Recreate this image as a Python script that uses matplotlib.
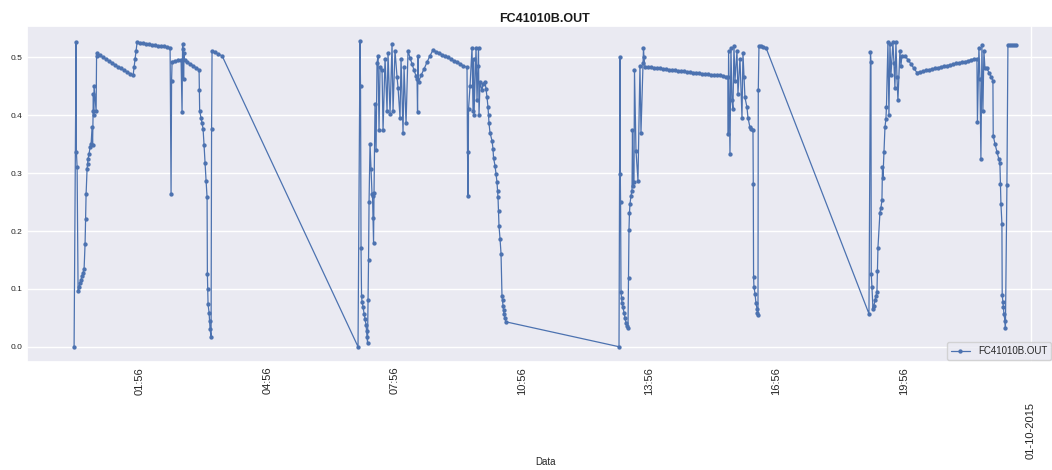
import matplotlib
matplotlib.use("Agg")
import matplotlib.pyplot as plt
import seaborn as sns
import numpy as np

# ---- data: time of day (hours, display clock) and reading ----
hours_a = [0.377, 0.424, 0.431, 0.448, 0.471, 0.495, 0.518, 0.542, 0.566, 0.589, 0.613,
           0.636, 0.648, 0.660, 0.683, 0.695, 0.707, 0.731, 0.754, 0.778, 0.801, 0.813,
           0.825, 0.832, 0.839, 0.848, 0.896, 0.907, 0.919, 0.990, 1.061, 1.131, 1.202,
           1.273, 1.343, 1.414, 1.485, 1.555, 1.626, 1.697, 1.768, 1.791, 1.815, 1.838,
           1.862, 1.933, 2.003, 2.074, 2.145, 2.215, 2.286, 2.357, 2.428, 2.498, 2.569,
           2.640, 2.663, 2.675, 2.687, 2.757, 2.828, 2.899, 2.922, 2.934, 2.946, 2.958,
           2.970, 2.981, 3.040, 3.111, 3.182, 3.252, 3.323, 3.330, 3.337, 3.370, 3.394,
           3.417, 3.441, 3.464, 3.488, 3.512, 3.519, 3.528, 3.535, 3.559, 3.571, 3.582,
           3.606, 3.618, 3.629, 3.700, 3.771, 3.865]
values_a = [0.000, 0.527, 0.337, 0.311, 0.097, 0.104, 0.110, 0.116, 0.122, 0.128, 0.135,
            0.178, 0.221, 0.264, 0.307, 0.316, 0.325, 0.334, 0.345, 0.351, 0.379, 0.348,
            0.408, 0.437, 0.400, 0.450, 0.408, 0.503, 0.507, 0.504, 0.500, 0.497, 0.494,
            0.491, 0.487, 0.484, 0.481, 0.478, 0.475, 0.472, 0.469, 0.483, 0.498, 0.512,
            0.526, 0.525, 0.525, 0.524, 0.523, 0.522, 0.521, 0.520, 0.520, 0.519, 0.518,
            0.517, 0.264, 0.460, 0.493, 0.494, 0.495, 0.496, 0.405, 0.524, 0.515, 0.463,
            0.507, 0.495, 0.492, 0.489, 0.486, 0.482, 0.479, 0.444, 0.408, 0.395, 0.386,
            0.377, 0.348, 0.317, 0.287, 0.258, 0.126, 0.100, 0.073, 0.059, 0.045, 0.031,
            0.017, 0.377, 0.511, 0.509, 0.506, 0.503]

hours_b = [7.070, 7.117, 7.129, 7.141, 7.153, 7.165, 7.188, 7.212, 7.235, 7.259, 7.271,
           7.283, 7.294, 7.306, 7.318, 7.330, 7.353, 7.377, 7.400, 7.412, 7.424, 7.436,
           7.447, 7.471, 7.495, 7.518, 7.542, 7.565, 7.589, 7.636, 7.660, 7.707, 7.754,
           7.777, 7.825, 7.872, 7.895, 7.942, 7.990, 8.013, 8.060, 8.084, 8.131, 8.155,
           8.202, 8.249, 8.296, 8.343, 8.390, 8.437, 8.461, 8.473, 8.484, 8.496, 8.555,
           8.626, 8.697, 8.767, 8.838, 8.909, 8.979, 9.050, 9.121, 9.192, 9.262, 9.333,
           9.404, 9.474, 9.545, 9.639, 9.651, 9.663, 9.675, 9.710, 9.757, 9.781, 9.793,
           9.804, 9.852, 9.875, 9.899, 9.910, 9.922, 9.946, 9.993, 10.016, 10.064, 10.087,
           10.111, 10.134, 10.146, 10.158, 10.181, 10.229, 10.252, 10.264, 10.299, 10.323,
           10.346, 10.358, 10.370, 10.382, 10.393, 10.417, 10.441, 10.464, 10.476, 10.488,
           10.500, 10.511, 10.535, 10.558]
values_b = [0.000, 0.528, 0.450, 0.170, 0.088, 0.078, 0.068, 0.057, 0.048, 0.038, 0.028,
            0.017, 0.007, 0.080, 0.150, 0.250, 0.351, 0.307, 0.264, 0.260, 0.223, 0.180,
            0.265, 0.420, 0.340, 0.490, 0.503, 0.374, 0.483, 0.478, 0.374, 0.498, 0.408,
            0.507, 0.403, 0.524, 0.408, 0.512, 0.466, 0.448, 0.396, 0.498, 0.370, 0.483,
            0.386, 0.512, 0.499, 0.489, 0.478, 0.468, 0.463, 0.405, 0.503, 0.457, 0.469,
            0.480, 0.492, 0.503, 0.513, 0.510, 0.508, 0.505, 0.502, 0.500, 0.497, 0.494,
            0.492, 0.489, 0.486, 0.483, 0.336, 0.261, 0.411, 0.450, 0.517, 0.408, 0.498,
            0.400, 0.517, 0.426, 0.486, 0.517, 0.400, 0.457, 0.443, 0.455, 0.457, 0.446,
            0.431, 0.414, 0.400, 0.386, 0.370, 0.356, 0.342, 0.327, 0.313, 0.299,
            0.284, 0.270, 0.258, 0.234, 0.209, 0.187, 0.161, 0.087, 0.080, 0.071,
            0.064, 0.057, 0.050, 0.043]

hours_c = [13.222, 13.245, 13.252, 13.259, 13.269, 13.281, 13.292, 13.316, 13.340, 13.363,
           13.387, 13.410, 13.434, 13.446, 13.457, 13.469, 13.481, 13.505, 13.528, 13.540,
           13.552, 13.575, 13.587, 13.622, 13.669, 13.716, 13.740, 13.787, 13.799, 13.811,
           13.834, 13.905, 13.976, 14.046, 14.117, 14.188, 14.259, 14.329, 14.400, 14.471,
           14.541, 14.612, 14.683, 14.754, 14.824, 14.895, 14.966, 15.036, 15.107, 15.178,
           15.248, 15.319, 15.390, 15.461, 15.531, 15.602, 15.673, 15.743, 15.791, 15.798,
           15.805, 15.838, 15.861, 15.885, 15.908, 15.932, 15.956, 16.003, 16.026, 16.073,
           16.121, 16.144, 16.168, 16.191, 16.238, 16.262, 16.309, 16.344, 16.380, 16.387,
           16.394, 16.403, 16.427, 16.450, 16.474, 16.486, 16.498, 16.505, 16.521, 16.568,
           16.615, 16.686]
values_c = [0.000, 0.500, 0.299, 0.250, 0.094, 0.085, 0.076, 0.068, 0.059, 0.050,
            0.041, 0.036, 0.033, 0.118, 0.202, 0.232, 0.247, 0.261, 0.270, 0.374,
            0.277, 0.284, 0.478, 0.339, 0.287, 0.486, 0.370, 0.491, 0.516, 0.500,
            0.484, 0.483, 0.483, 0.482, 0.482, 0.481, 0.480, 0.480, 0.479, 0.479,
            0.478, 0.477, 0.477, 0.476, 0.475, 0.475, 0.474, 0.474, 0.473, 0.472,
            0.472, 0.471, 0.470, 0.470, 0.469, 0.469, 0.468, 0.467, 0.467, 0.368,
            0.512, 0.334, 0.517, 0.426, 0.411, 0.519, 0.460, 0.512, 0.437, 0.498,
            0.396, 0.507, 0.466, 0.431, 0.414, 0.396, 0.379, 0.376, 0.374, 0.282,
            0.120, 0.104, 0.092, 0.076, 0.066, 0.059, 0.054, 0.443, 0.519, 0.519,
            0.518, 0.517]

hours_d = [19.114, 19.149, 19.161, 19.168, 19.184, 19.208, 19.231, 19.255, 19.279, 19.302,
           19.314, 19.326, 19.373, 19.396, 19.420, 19.432, 19.444, 19.467, 19.491, 19.514,
           19.526, 19.561, 19.585, 19.609, 19.632, 19.679, 19.703, 19.726, 19.750, 19.774,
           19.797, 19.844, 19.868, 19.891, 19.962, 20.033, 20.103, 20.174, 20.245, 20.315,
           20.386, 20.457, 20.528, 20.598, 20.669, 20.740, 20.811, 20.881, 20.952, 21.023,
           21.093, 21.164, 21.235, 21.305, 21.376, 21.447, 21.518, 21.588, 21.659, 21.671,
           21.706, 21.730, 21.753, 21.777, 21.800, 21.824, 21.848, 21.895, 21.942, 21.989,
           22.036, 22.043, 22.083, 22.131, 22.178, 22.201, 22.213, 22.225, 22.248, 22.255,
           22.272, 22.284, 22.295, 22.319, 22.331, 22.366, 22.390, 22.437, 22.484, 22.531,
           22.578]
values_d = [0.057, 0.510, 0.493, 0.125, 0.104, 0.066, 0.071, 0.080, 0.088, 0.094,
            0.131, 0.171, 0.232, 0.240, 0.253, 0.310, 0.292, 0.336, 0.379, 0.394,
            0.414, 0.526, 0.400, 0.524, 0.469, 0.526, 0.490, 0.448, 0.526, 0.466,
            0.426, 0.512, 0.486, 0.503, 0.503, 0.496, 0.489, 0.481, 0.474, 0.475,
            0.476, 0.478, 0.479, 0.480, 0.481, 0.482, 0.484, 0.485, 0.486, 0.487,
            0.488, 0.490, 0.491, 0.492, 0.493, 0.494, 0.496, 0.497, 0.498, 0.388,
            0.516, 0.463, 0.325, 0.521, 0.408, 0.512, 0.481, 0.481, 0.474, 0.467,
            0.460, 0.365, 0.351, 0.337, 0.324, 0.317, 0.282, 0.247, 0.213, 0.090,
            0.078, 0.068, 0.057, 0.045, 0.033, 0.279, 0.522, 0.522, 0.522, 0.522,
            0.522]

hour_tick_labels = ["01:56", "04:56", "07:56", "10:56", "13:56", "16:56", "19:56"]
date_tick_label = "01-10-2015"
series_name = "FC41010B.OUT"
title_text = "FC41010B.OUT"
xlabel_text = "Data"

# ---- figure ----
sns.set_theme(style="darkgrid")
plt.rcParams["font.family"] = ["Liberation Sans", "DejaVu Sans"]

W, H = 1052, 470
fig = plt.figure(figsize=(W / 100, H / 100), dpi=100)
ax = fig.add_axes([27 / W, 108 / H, 1036 / W, 336 / H])

t = np.array(hours_a + hours_b + hours_c + hours_d)
v = np.array(values_a + values_b + values_c + values_d)

ax.plot(t, v, color="#4C72B0", marker=".", markersize=4.2, linewidth=0.9,
        label=series_name)

ax.margins(x=0.05, y=0.05)

# x ticks: hours as minor ticks, day boundary as major tick
first_tick = 1 + 56 / 60
minor_pos = [first_tick + 3 * k for k in range(len(hour_tick_labels))]
major_pos = [first_tick + 3 * len(hour_tick_labels)]
ax.set_xticks(major_pos)
ax.set_xticklabels([date_tick_label], rotation=90)
ax.set_xticks(minor_pos, minor=True)
ax.set_xticklabels(hour_tick_labels, minor=True, rotation=90)
ax.tick_params(axis="x", which="minor", labelsize=8, pad=3.5, length=0,
               labelcolor="#262626")
ax.tick_params(axis="x", which="major", labelsize=8, pad=29, length=0,
               labelcolor="#262626")
ax.grid(False, which="minor")

ax.set_yticks([0.0, 0.1, 0.2, 0.3, 0.4, 0.5])
ax.set_yticklabels(["0.0", "0.1", "0.2", "0.3", "0.4", "0.5"])
ax.tick_params(axis="y", labelsize=6, pad=3, length=0, labelcolor="#262626")

ax.set_title(title_text, fontsize=9, fontweight="bold", pad=3, color="#1a1a1a")
ax.set_xlabel(xlabel_text, fontsize=7, color="#262626")
ax.xaxis.set_label_coords(0.5, -0.283)

ax.legend(loc="lower right", fontsize=7, borderaxespad=0,
          bbox_to_anchor=(1051 / W, 110 / H), bbox_transform=fig.transFigure)

fig.savefig("out.png", dpi=100)
